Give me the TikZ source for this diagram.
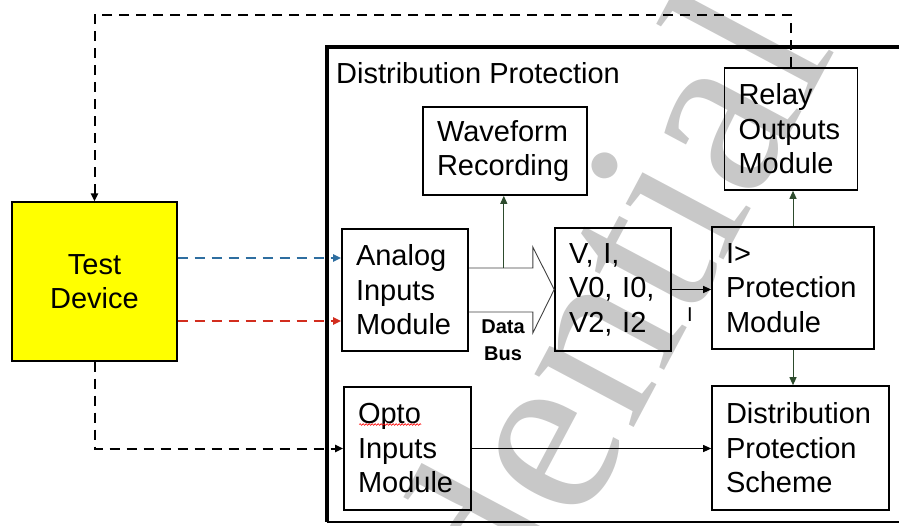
\documentclass[tikz,border=0pt]{standalone}
\usepackage{fontspec}
\setmainfont{Liberation Sans}
\newfontfamily\wmfont{Liberation Serif}
\usetikzlibrary{arrows.meta,calc,decorations.pathmorphing}
\definecolor{tdyellow}{RGB}{255,255,0}
\definecolor{dblue}{RGB}{46,110,160}
\definecolor{dred}{RGB}{210,45,30}
\definecolor{dgreen}{RGB}{45,75,45}
\definecolor{wmgray}{RGB}{200,200,200}
\hyphenpenalty=10000
\begin{document}
\begin{tikzpicture}[x=1pt,y=-1pt,
  box/.style={draw, line width=1.6pt, inner xsep=14pt, inner ysep=0pt, align=left,
    font=\fontsize{29}{34.5}\selectfont},
  tip/.style={-{Triangle[length=8pt,width=7pt]}},
  arr/.style={tip, line width=1pt, draw=black},
  garr/.style={tip, line width=1pt, draw=dgreen},
  dsh/.style={tip, line width=2pt, dash pattern=on 10pt off 7pt},
  bus/.style={line width=0.9pt, draw=black!75},
  lbl/.style={inner sep=0pt, font=\fontsize{29}{34.5}\selectfont}]
\useasboundingbox (0,0) rectangle (899,525);
% watermark
\begin{scope}
\clip (0,0) rectangle (899,525);
\node[anchor=base east, rotate=62, inner sep=0pt, text=wmgray,
  font=\wmfont\fontsize{245}{245}\selectfont] (wm) at (836,48) {Confidential};
\end{scope}
% outer frame
\draw[line width=3.5pt] (905,47) -- (327,47) -- (327,522);
\draw[line width=1.6pt] (327,522) -- (905,522);
\node[lbl, anchor=base west] (dp) at (336,83) {Distribution Protection};
% boxes
\node[draw, line width=1.2pt, fill=tdyellow, align=center, minimum width=165pt,
  minimum height=159pt, font=\fontsize{29}{34.5}\selectfont] (td) at (94.5,281.5) {Test\\Device};
\node[box, minimum width=164pt, minimum height=88pt, text width=136pt] (wf) at (505,151) {Waveform\\Recording};
\node[box, minimum width=133pt, minimum height=122pt, text width=105pt] (ro) at (791,129) {Relay\\Outputs\\Module};
\node[box, minimum width=126pt, minimum height=122pt, text width=98pt] (an) at (405,290) {Analog\\Inputs\\Module};
\node[box, minimum width=116pt, minimum height=123pt, text width=88pt] (vi) at (613,289.5) {V, I,\\V0, I0,\\V2, I2};
\node[box, minimum width=162pt, minimum height=122pt, text width=134pt] (ip) at (793,288) {I>\\Protection\\Module};
\node[box, minimum width=127pt, minimum height=123pt, text width=99pt] (op) at (407.5,448.5) {Opto\\Inputs\\Module};
\node[box, minimum width=177pt, minimum height=124pt, text width=149pt] (dps) at (800.5,448) {Distribution\\Protection\\Scheme};
% spell-check squiggle under Opto
\draw[red, line width=0.6pt, decorate, decoration={snake, amplitude=0.9pt, segment length=3pt}]
  ($(op.west)+(16,-24)$) -- ($(op.west)+(78,-24)$);
% data bus arrow
\coordinate (bt) at ($(an.east)+(35,-22)$);
\draw[bus] ($(an.east)+(0,-22)$) -- ($(an.east)+(64,-22)$) -- ($(an.east)+(64,-43)$)
  -- (vi.west) -- ($(an.east)+(64,43)$) -- ($(an.east)+(64,22)$) -- ($(an.east)+(0,22)$);
\node[inner sep=0pt, align=center, font=\bfseries\fontsize{20}{27}\selectfont] (db) at (503,340) {Data\\Bus};
% internal connectors
\draw[garr] (bt) -- (bt |- wf.south);
\draw[arr] (vi.east) -- (vi.east -| ip.west);
\node[inner sep=0pt, font=\fontsize{20}{24}\selectfont] (il) at (690,315) {I};
\draw[garr] (ip.north) -- (ip.north |- ro.south);
\draw[garr] (ip.south) -- (ip.south |- dps.north);
\draw[arr] (op.east) -- (op.east -| dps.west);
% test device connectors
\coordinate (bs) at ($(td.east)+(0,-23.5)$);
\coordinate (rs) at ($(td.east)+(0,39.5)$);
\draw[dsh, dblue, line width=2.5pt] (bs) -- (bs -| an.west);
\draw[dsh, dred, line width=2.5pt] (rs) -- (rs -| an.west);
\draw[dsh] (td.south) |- (op.west);
\coordinate (tp) at (0,15);
\draw[dsh] (ro.north) -- (ro.north |- tp) -| (td.north);
\end{tikzpicture}
\end{document}
